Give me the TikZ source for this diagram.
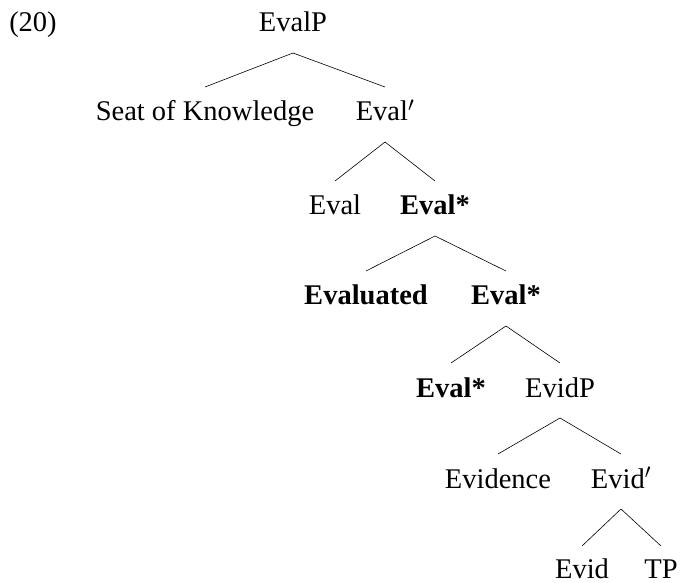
\documentclass[tikz,border=0pt]{standalone}
\usepackage{fontspec}
\setmainfont{Liberation Serif}
\usepackage{tikz}

\tikzset{
  lbl/.style={anchor=base,inner sep=0pt},
  branch/.style={line width=0.6pt}
}
\newcommand{\bstar}[1]{\textbf{#1*}}

\begin{document}
\begin{tikzpicture}[x=1pt,y=-1pt,font=\fontsize{28.5}{34}\selectfont]
        \useasboundingbox (0,0) rectangle (681,583);
        \node[lbl] (ex) at (33,32) {(20)};
        \path
        % 1st layer
        (293,32)  node[lbl] (evalp) {EvalP}
        % 2nd layer
        (205,121) node[lbl] (seat) {Seat of Knowledge}
        (385,121) node[lbl] (evalbar) {Eval$'$}
        % 3rd layer
        (335,215) node[lbl] (eval) {Eval}
        (435,215) node[lbl] (evalst) {\bstar{Eval}}
        % 4th layer
        (366,305) node[lbl] (evaluated) {\textbf{Evaluated}}
        (506,305) node[lbl] (evalstb) {\bstar{Eval}}
        % 5th layer
        (451,397) node[lbl] (evalstc) {\bstar{Eval}}
        (560,397) node[lbl] (evidp) {EvidP}
        % 6th layer
        (498,488) node[lbl] (evidence) {Evidence}
        (621,488) node[lbl] (evidbar) {Evid$'$}
        % 7th layer
        (582,578) node[lbl] (evid) {Evid}
        (661,578) node[lbl] (tp) {TP};
        \foreach \p/\c in {evalp/seat,evalp/evalbar,evalbar/eval,evalbar/evalst,
            evalst/evaluated,evalst/evalstb,evalstb/evalstc,evalstb/evidp,
            evidp/evidence,evidp/evidbar}
          \draw[branch] ([yshift=-21pt]\p.base) -- ([yshift=34pt]\c.base);
        \foreach \c in {evid,tp}
          \draw[branch] ([yshift=-21pt]evidbar.base) -- ([yshift=32pt]\c.base);
    \end{tikzpicture}
\end{document}
